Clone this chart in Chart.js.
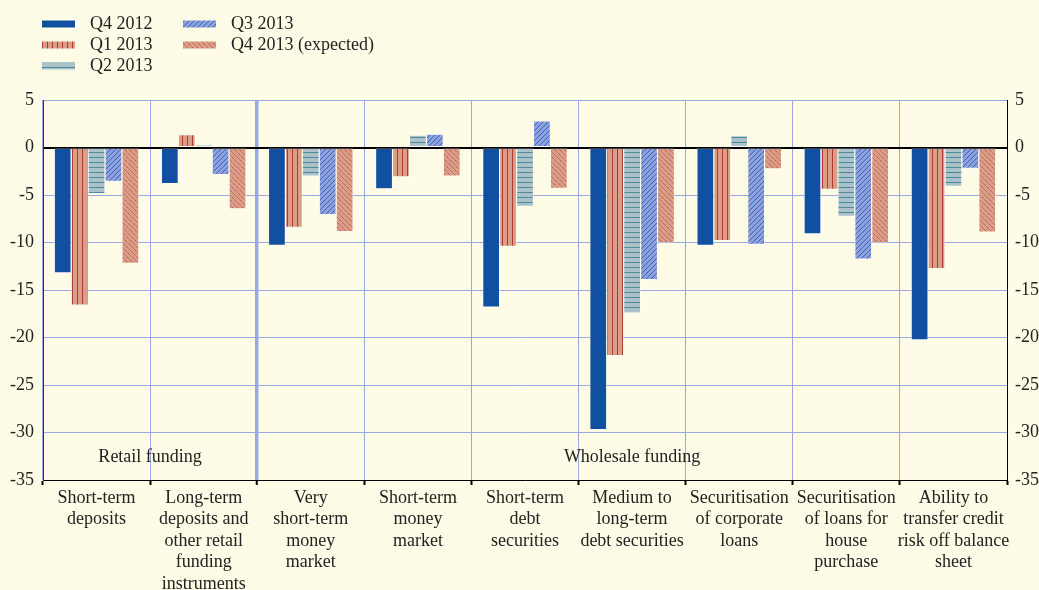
<!DOCTYPE html>
<html>
<head>
<meta charset="utf-8">
<script src="https://cdn.jsdelivr.net/npm/chart.js@4.4.1/dist/chart.umd.min.js"></script>
<style>
  html, body { margin: 0; padding: 0; background: #fefce6; }
  #wrap { position: relative; width: 1039px; height: 590px; }
</style>
</head>
<body>
<div id="wrap"><canvas id="chart"></canvas></div>
<script>
// categories (x axis), multi-line labels
const categories = [
  ["Short-term", "deposits"],
  ["Long-term", "deposits and", "other retail", "funding", "instruments"],
  ["Very", "short-term", "money", "market"],
  ["Short-term", "money", "market"],
  ["Short-term", "debt", "securities"],
  ["Medium to", "long-term", "debt securities"],
  ["Securitisation", "of corporate", "loans"],
  ["Securitisation", "of loans for", "house", "purchase"],
  ["Ability to", "transfer credit", "risk off balance", "sheet"]
];
const seriesNames = ["Q4 2012", "Q1 2013", "Q2 2013", "Q3 2013", "Q4 2013 (expected)"];

// values
const q4_2012 = [-13.2, -3.8, -10.3, -4.35, -16.8, -29.7, -10.3, -9.1, -20.25];
const q1_2013 = [-16.6, 1.35, -8.4, -3.1, -10.4, -21.9, -9.8, -4.4, -12.75];
const q2_2013 = [-4.85, 0.3, -3.0, 1.3, -6.2, -17.4, 1.25, -7.25, -4.1];
const q3_2013 = [-3.55, -2.85, -7.05, 1.4, 2.8, -13.9, -10.2, -11.75, -2.2];
const q4_2013e = [-12.2, -6.45, -8.85, -3.0, -4.3, -10.0, -2.25, -10.0, -8.9];

const yTicks = [5, 0, -5, -10, -15, -20, -25, -30, -35];

// group captions: [label, first category index, last category index]
const groups = [["Retail funding", 0, 1], ["Wholesale funding", 2, 8]];
const groupLabelValue = -32.6;

const FONT = "'Liberation Serif', 'Times New Roman', serif";
const gridBlue = "#9aa9e2";

// ---- fill patterns for the bars ----
function makePattern(bg, draw) {
  const c = document.createElement("canvas");
  c.width = 10; c.height = 10;
  const g = c.getContext("2d");
  g.fillStyle = bg;
  g.fillRect(0, 0, 10, 10);
  draw(g);
  return g.createPattern(c, "repeat");
}

const solidBlue = "#1150a0";
const vertStripes = makePattern("#d99d88", g => {
  g.fillStyle = "#b13a2e";
  g.fillRect(2, 0, 1, 10);
  g.fillRect(7, 0, 1, 10);
});
const horizStripes = makePattern("#abc2ca", g => {
  g.fillStyle = "#4b8b99";
  g.fillRect(0, 2, 10, 1);
  g.fillRect(0, 7, 10, 1);
});
const slashLines = makePattern("#8fa1dc", g => {
  g.strokeStyle = "#2f5fb5";
  g.lineWidth = 0.9;
  g.beginPath();
  for (let k = -10; k <= 20; k += 5) {
    g.moveTo(k, 10);
    g.lineTo(k + 10, 0);
  }
  g.stroke();
});
const backslashLines = makePattern("#d99d88", g => {
  g.strokeStyle = "#b0463a";
  g.lineWidth = 0.9;
  g.setLineDash([1.2, 0.8]);
  g.beginPath();
  for (let k = -10; k <= 20; k += 5) {
    g.moveTo(k, 0);
    g.lineTo(k + 10, 10);
  }
  g.stroke();
});

const fills = [solidBlue, vertStripes, horizStripes, slashLines, backslashLines];
const seriesValues = [q4_2012, q1_2013, q2_2013, q3_2013, q4_2013e];

const datasets = seriesNames.map((name, i) => ({
  label: name,
  data: seriesValues[i],
  backgroundColor: fills[i],
  borderColor: "#ffffff",
  borderWidth: 0.6,
  borderSkipped: false,
  categoryPercentage: 0.79,
  barPercentage: 1.0
}));

// legend drawn in two columns at the top-left
const legendPlugin = {
  id: "topLegend",
  afterDraw(chart) {
    const ctx = chart.ctx;
    const cols = [42, 183];
    const rows = [24, 45, 66];
    const placement = [[0, 0], [0, 1], [0, 2], [1, 0], [1, 1]];
    ctx.save();
    ctx.font = "18px " + FONT;
    ctx.textBaseline = "middle";
    seriesNames.forEach((name, i) => {
      const x = cols[placement[i][0]];
      const y = rows[placement[i][1]];
      ctx.fillStyle = fills[i];
      ctx.fillRect(x, y - 3.5, 33, 7);
      ctx.fillStyle = "#222";
      ctx.fillText(name, x + 48, y);
    });
    ctx.restore();
  }
};

// group captions inside the plot
const groupPlugin = {
  id: "groupCaptions",
  afterDatasetsDraw(chart) {
    const ctx = chart.ctx;
    const xs = chart.scales.x;
    const ys = chart.scales.y;
    const half = (xs.getPixelForValue(1) - xs.getPixelForValue(0)) / 2;
    ctx.save();
    ctx.font = "18px " + FONT;
    ctx.fillStyle = "#222";
    ctx.textAlign = "center";
    ctx.textBaseline = "middle";
    groups.forEach(([label, a, b]) => {
      const left = xs.getPixelForValue(a) - half;
      const right = xs.getPixelForValue(b) + half;
      ctx.fillText(label, (left + right) / 2, ys.getPixelForValue(groupLabelValue));
    });
    ctx.restore();
  }
};

new Chart(document.getElementById("chart"), {
  type: "bar",
  data: { labels: categories, datasets },
  plugins: [legendPlugin, groupPlugin],
  options: {
    responsive: true,
    maintainAspectRatio: false,
    animation: false,
    layout: { padding: { top: 100, left: 0, right: 0, bottom: 0 } },
    plugins: { legend: { display: false }, tooltip: { enabled: false } },
    scales: {
      x: {
        grid: {
          offset: true,
          color: gridBlue,
          lineWidth: c => (c.index === 2 ? 3.5 : 1),
          tickColor: "#000",
          tickLength: 5,
          tickWidth: 2
        },
        border: { display: true, color: "#000", width: 1 },
        ticks: {
          autoSkip: false,
          maxRotation: 0,
          minRotation: 0,
          padding: 2,
          color: "#222",
          font: { family: FONT, size: 18, lineHeight: 1.2 }
        },
        afterFit: s => { s.height = 110; }
      },
      y: {
        position: "left",
        min: -35,
        max: 5,
        afterBuildTicks: s => { s.ticks = yTicks.map(v => ({ value: v })); },
        grid: {
          color: c => (c.tick && c.tick.value === 0 ? "#000" : gridBlue),
          lineWidth: c => (c.tick && c.tick.value === 0 ? 2 : 1),
          drawTicks: false
        },
        border: { display: true, color: "#333", width: 1 },
        ticks: {
          padding: 9,
          color: "#222",
          font: { family: FONT, size: 18 }
        },
        afterFit: s => { s.width = 43; }
      },
      y2: {
        position: "right",
        min: -35,
        max: 5,
        afterBuildTicks: s => { s.ticks = yTicks.map(v => ({ value: v })); },
        grid: { drawOnChartArea: false, drawTicks: false },
        border: { display: true, color: "#000", width: 1 },
        ticks: {
          padding: 8,
          color: "#222",
          font: { family: FONT, size: 18 }
        },
        afterFit: s => { s.width = 32; }
      }
    }
  }
});
</script>
</body>
</html>
